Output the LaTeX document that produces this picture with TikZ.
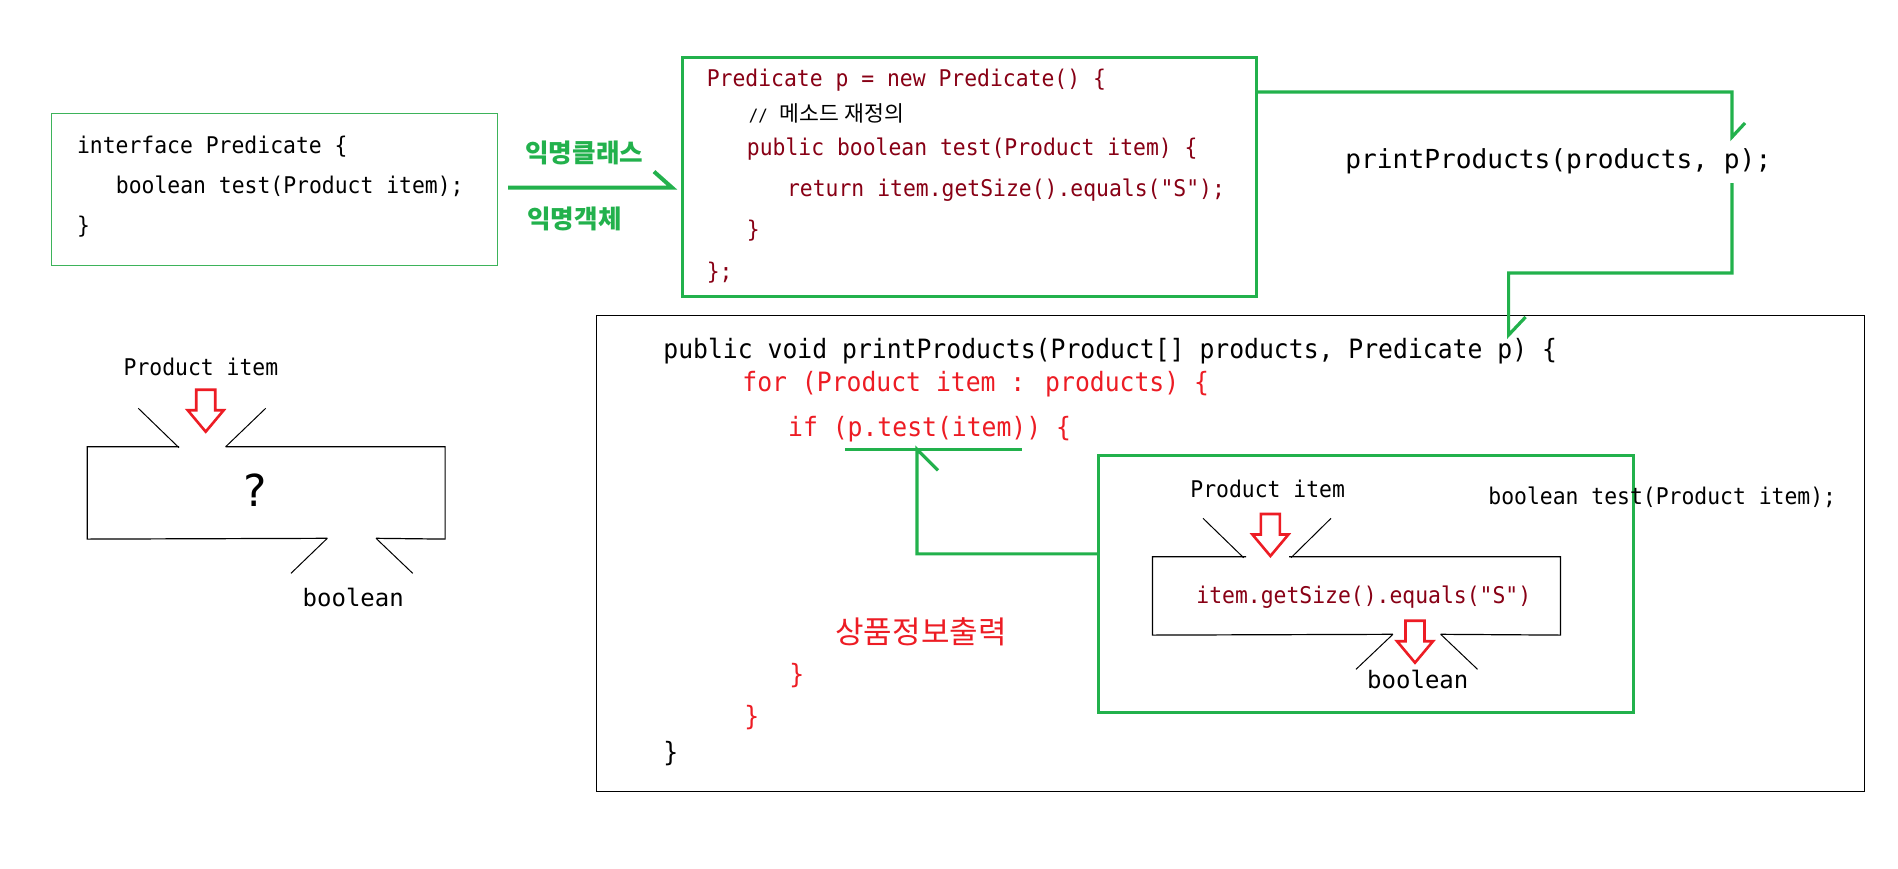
\documentclass[tikz,border=0pt]{standalone}
\usepackage{fontspec}
\usetikzlibrary{calc}
\newfontfamily\code[FakeStretch=0.93]{DejaVu Sans Mono}
\newfontfamily\codeN{DejaVu Sans Mono}
\newfontfamily\kr{Noto Sans CJK KR}
\definecolor{pgreen}{HTML}{22B14C}
\definecolor{lgreen}{HTML}{3DB35A}
\definecolor{pdred}{HTML}{880015}
\definecolor{pred}{HTML}{ED1C24}
\begin{document}
\begin{tikzpicture}[x=0.5pt,y=-0.5pt,
  codeA/.style={font=\code\fontsize{11.5}{13}\selectfont, inner sep=0pt, anchor=base west},
  codeB/.style={font=\code\fontsize{13.3}{15}\selectfont, inner sep=0pt, anchor=base west},
  callf/.style={font=\codeN\fontsize{13.1}{15}\selectfont, inner sep=0pt, anchor=base west},
  boolf/.style={font=\codeN\fontsize{12}{14}\selectfont, inner sep=0pt, anchor=base west},
  krlbl/.style={font=\kr\bfseries\fontsize{12.8}{14}\selectfont, text=pgreen, inner sep=0pt, anchor=west},
  box/.style={anchor=north west, inner sep=0pt},
  conn/.style={draw=pgreen, line width=1.6pt, line join=miter},
  thinl/.style={line width=0.6pt},
  diag/.style={line width=0.5pt},
  harrow/.pic={\draw[pred, line width=1.3pt, line join=miter] (-9.5,-42) -- (9.5,-42) -- (9.5,-21.5) -- (18,-21.5) -- (0,0) -- (-18,-21.5) -- (-9.5,-21.5) -- cycle;}
]
\useasboundingbox (0,0) rectangle (1898,868);
\fill[white] (0,0) rectangle (1898,868);

% boxes
\node[box, draw=lgreen, line width=0.6pt, minimum width=223pt, minimum height=76pt] (b1) at (51,113) {};
\node[box, draw=pgreen, line width=1.5pt, minimum width=287pt, minimum height=119.5pt] (b2) at (681,56) {};
\node[box, draw=black, line width=0.6pt, minimum width=634pt, minimum height=238pt] (bb) at (596,314.5) {};
\node[box, draw=pgreen, line width=1.5pt, minimum width=267.5pt, minimum height=128.35pt] (g) at (1097,454) {};
\node[box, minimum width=178.5pt, minimum height=45.8pt] (q) at (87.3,446.7) {};
\node[box, minimum width=203.55pt, minimum height=38.8pt] (r) at (1152.5,556.7) {};

% box1 text
\node[codeA] (i1) at (76.7,153.3) {interface Predicate \{};
\node[codeA] (i2) at (115.5,193.3) {boolean test(Product item);};
\node[codeA] (i3) at (76.7,233) {\}};

% labels on arrow
\node[krlbl] (l1) at (525,153) {익명클래스};
\node[krlbl] (l2) at (527,219) {익명객체};

% box2 text
\node[codeA, text=pdred] (p1) at (706.4,86.7) {Predicate p = new Predicate() \{};
\node[inner sep=0pt, anchor=base west] (p2) at (748.5,121.7) {{\code\fontsize{8.5}{10}\selectfont //}\hspace{6pt}{\kr\fontsize{10.8}{12}\selectfont 메소드 재정의}};
\node[codeA, text=pdred] (p3) at (746.5,155) {public boolean test(Product item) \{};
\node[codeA, text=pdred] (p4) at (786.7,196.7) {return item.getSize().equals("S");};
\node[codeA, text=pdred] (p5) at (746.5,237.7) {\}};
\node[codeA, text=pdred] (p6) at (706.4,279) {\};};

% call
\node[callf] (call) at (1345,168) {printProducts(products, p);};

% left "?" block
\node[codeA] (lpi) at (123.3,375) {Product item};
\node[font=\codeN\fontsize{22}{24}\selectfont, inner sep=0pt] (qm) at (255,490) {?};
\node[boolf] (lbo) at (302.3,606.7) {boolean};
\draw[thinl] (179,446.7) -- (q.north west) -- (q.south west) -- (327.3,538.3);
\draw[thinl] (225.7,446.7) -- (q.north east) -- (q.south east) -- (376,538.3);
\draw[diag] (138.3,408.3) -- (179,447.7);
\draw[diag] (265.7,408.3) -- (225.7,446.7);
\draw[diag] (327.3,538.3) -- (291,573.3);
\draw[diag] (376,538.3) -- (412.7,573.3);
\pic at (205.7,431.7) {harrow};

% big box text
\node[codeB] (s1) at (663,358.3) {public void printProducts(Product[] products, Predicate p) \{};
\node[codeB, text=pred] (s2) at (742,391.7) {for (Product item : products) \{};
\node[codeB, text=pred] (s3) at (787.7,436.7) {if (p.test(item)) \{};
\node[font=\kr\fontsize{15.5}{17}\selectfont, text=pred, inner sep=0pt] (s4) at (921,631.5) {상품정보출력};
\node[codeB, text=pred] (s5) at (789,683) {\}};
\node[codeB, text=pred] (s6) at (744,725) {\}};
\node[codeB] (s7) at (663,761) {\}};

% inner box content
\node[codeA] (gpi) at (1190,497.3) {Product item};
\node[codeA] (gsig) at (1488,504) {boolean test(Product item);};
\node[codeA, text=pdred] (gexp) at (1196,603.3) {item.getSize().equals("S")};
\node[boolf] (gbo) at (1366.8,688.3) {boolean};
\draw[thinl] (1246,556.7) -- (r.north west) -- (r.south west) -- (1392.9,634.3);
\draw[thinl] (1289,556.7) -- (r.north east) -- (r.south east) -- (1440.7,634.3);
\draw[diag] (1203,518.3) -- (1243.6,557.7);
\draw[diag] (1331,518.3) -- (1291,557.7);
\draw[diag] (1392.9,634.3) -- (1356,669.3);
\draw[diag] (1440.7,634.3) -- (1477.5,669.3);
\pic at (1270.4,556) {harrow};
\pic at (1415,662.7) {harrow};

% connectors
\coordinate (a1) at ($(b1.east)+(10,-2)$);
\coordinate (a2) at ($(a1 -| b2.west)+(-9,0)$);
\draw[conn, line width=2pt] (a1) -- (a2) -- ++(-18,-16);

\coordinate (c1) at ($(b2.north east)+(0,36)$);
\coordinate (callp) at (1732,137);
\draw[conn] (c1) -| (callp) -- ++(13,-14);

\coordinate (callb) at (1732,183);
\coordinate (sigp) at (1508.6,335);
\draw[conn] (callb) -- ++(0,90) -| (sigp) -- ++(17,-18);

\draw[pgreen, line width=1.6pt] (845,449.3) -- (1021.5,449.3);
\coordinate (gw) at ($(g.west)+(0,-30)$);
\coordinate (tpt) at (917,449.3);
\draw[conn] (gw) -| (tpt) -- ++(21,21);
\end{tikzpicture}
\end{document}
